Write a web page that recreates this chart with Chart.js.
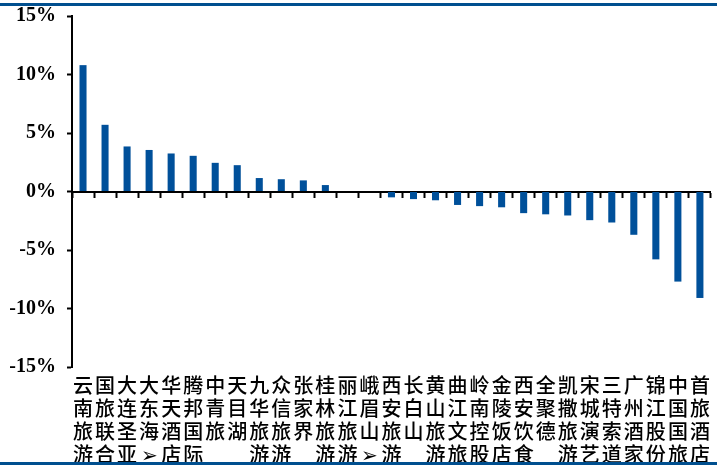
<!DOCTYPE html>
<html>
<head>
<meta charset="utf-8">
<script src="https://cdn.jsdelivr.net/npm/chart.js@4"></script>
<style>
  html, body { margin: 0; padding: 0; background: #fff; }
  #wrap { position: relative; width: 717px; height: 465px; }
  #wrap:before, #wrap:after {
    content: ""; position: absolute; left: 0; right: 0; height: 3px; background: #004f8f;
  }
  #wrap:before { top: 3px; }
  #wrap:after { bottom: 0; }
</style>
</head>
<body>
<div id="wrap"><canvas id="retChart" width="717" height="465"></canvas></div>
<script>
  // --- data ---
  const companies = [
    "云南旅游", "国旅联合", "大连圣亚", "大东海➢", "华天酒店", "腾邦国际", "中青旅", "天目湖",
    "九华旅游", "众信旅游", "张家界", "桂林旅游", "丽江旅游", "峨眉山➢", "西安旅游", "长白山",
    "黄山旅游", "曲江文旅", "岭南控股", "金陵饭店", "西安饮食", "全聚德", "凯撒旅游", "宋城演艺",
    "三特索道", "广州酒家", "锦江股份", "中国国旅", "首旅酒店"
  ];
  const returns = [
    10.8, 5.7, 3.85, 3.55, 3.25, 3.05, 2.45, 2.25,
    1.15, 1.05, 0.95, 0.55, 0, 0, -0.5, -0.65,
    -0.75, -1.15, -1.25, -1.35, -1.85, -1.95, -2.05, -2.45,
    -2.65, -3.7, -5.8, -7.7, -9.1
  ];
  const yTicks = [-15, -10, -5, 0, 5, 10, 15];

  const blue = "#00509a";

  // one character per line so the names stand vertically
  const labels = companies.map(n => Array.from(n));

  new Chart(document.getElementById("retChart"), {
    type: "bar",
    data: {
      labels: labels,
      datasets: [{
        data: returns,
        backgroundColor: blue,
        borderWidth: 0,
        barPercentage: 0.32,
        categoryPercentage: 1
      }]
    },
    options: {
      responsive: false,
      animation: false,
      layout: { padding: { top: 16, right: 5, left: 0, bottom: 0 } },
      plugins: { legend: { display: false }, tooltip: { enabled: false } },
      scales: {
        x: {
          grid: { display: false, drawTicks: false },
          border: { display: false },
          ticks: {
            autoSkip: false,
            maxRotation: 0,
            padding: 7,
            color: "#000",
            font: { family: "'Noto Sans CJK SC'", size: 20, weight: "500", lineHeight: 1.15 }
          },
          afterFit: s => { s.height = 98; }
        },
        // zero line with ticks between the categories
        x0: {
          type: "category",
          position: { y: 0 },
          grid: { drawOnChartArea: false, tickLength: 5, tickWidth: 2, color: "#000", offset: true },
          border: { display: true, width: 2, color: "#000" },
          ticks: { display: false }
        },
        y: {
          min: -15,
          max: 15,
          afterBuildTicks: s => { s.ticks = yTicks.map(v => ({ value: v })); },
          grid: { drawOnChartArea: false, tickLength: 5, tickWidth: 2, color: "#000" },
          border: { display: true, width: 2, color: "#000" },
          ticks: {
            padding: 11,
            color: "#000",
            font: { family: "'Liberation Serif'", size: 20, weight: "bold" },
            callback: v => v + "%"
          },
          afterFit: s => { s.width = 72; s.paddingTop = 0; s.paddingBottom = 0; }
        }
      }
    }
  });
</script>
</body>
</html>
